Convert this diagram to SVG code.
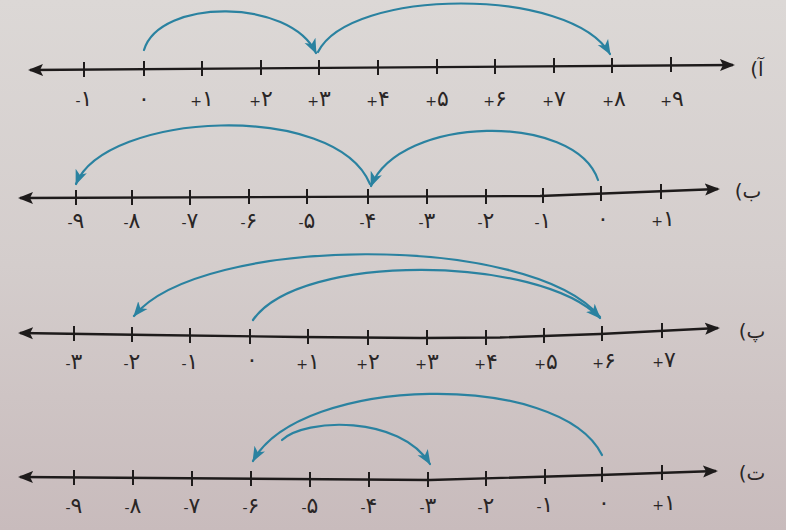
<svg xmlns="http://www.w3.org/2000/svg" width="786" height="530" viewBox="0 0 786 530">
<defs>
<linearGradient id="bg" x1="0" y1="0" x2="0" y2="1">
<stop offset="0" stop-color="#dcd8d6"/>
<stop offset="0.5" stop-color="#d4cdcc"/>
<stop offset="1" stop-color="#c8bbbc"/>
</linearGradient>
<marker id="lineEnd" markerUnits="userSpaceOnUse" markerWidth="16" markerHeight="14" viewBox="0 0 16 14" refX="13" refY="7" orient="auto-start-reverse">
<path d="M0,1 L15,7 L0,13 L3,7 Z" fill="#1e1b1b"/>
</marker>
<marker id="jump" markerUnits="userSpaceOnUse" markerWidth="16" markerHeight="14" viewBox="0 0 16 14" refX="14" refY="7" orient="auto">
<path d="M0,1 L15,7 L0,13 L4,7 Z" fill="#2a82a0"/>
</marker>
</defs>
<style>
.axis{fill:none;stroke:#1e1b1b;stroke-width:2.4;stroke-linejoin:round;marker-start:url(#lineEnd);marker-end:url(#lineEnd)}
.tick{stroke:#1e1b1b;stroke-width:2}
.num{font-family:"DejaVu Sans","Noto Sans",sans-serif;font-size:22px;fill:#2a2626;text-anchor:middle}
.s{font-size:14px}
.lbl{font-family:"DejaVu Sans","Noto Sans",sans-serif;font-size:20px;fill:#2a2626;text-anchor:middle;direction:ltr;unicode-bidi:bidi-override}
.arc{fill:none;stroke:#2a82a0;stroke-width:2.2;stroke-linecap:round}
.arr{marker-end:url(#jump)}
</style>
<rect width="786" height="530" fill="url(#bg)"/>

<g id="line-a">
<polyline class="axis" points="30,70 733,65"/>
<path class="tick" d="M84,62v15M144,61v15M202,61v15M261,60v15M319,60v15M378,60v15M437,59v15M495,59v15M554,58v15M612,58v15M671,57v15"/>
<g class="num">
<text x="84" y="106"><tspan class="s">-</tspan>۱</text><text x="144" y="106">۰</text><text x="202" y="106"><tspan class="s">+</tspan>۱</text><text x="261" y="106"><tspan class="s">+</tspan>۲</text><text x="319" y="106"><tspan class="s">+</tspan>۳</text><text x="378" y="106"><tspan class="s">+</tspan>۴</text><text x="437" y="106"><tspan class="s">+</tspan>۵</text><text x="495" y="106"><tspan class="s">+</tspan>۶</text><text x="554" y="106"><tspan class="s">+</tspan>۷</text><text x="614" y="106"><tspan class="s">+</tspan>۸</text><text x="672" y="106"><tspan class="s">+</tspan>۹</text>
</g>
<text class="lbl" x="757" y="76" direction="ltr" unicode-bidi="bidi-override">(آ</text>
</g>

<g id="line-b">
<polyline class="axis" points="20,198 540,196 718,189"/>
<path class="tick" d="M76,190v15M132,190v15M190,190v15M249,189v15M307,189v15M368,189v15M427,189v15M486,189v15M543,188v15M601,186v15M661,184v15"/>
<g class="num">
<text x="76" y="228"><tspan class="s">-</tspan>۹</text><text x="132" y="228"><tspan class="s">-</tspan>۸</text><text x="190" y="228"><tspan class="s">-</tspan>۷</text><text x="249" y="228"><tspan class="s">-</tspan>۶</text><text x="307" y="228"><tspan class="s">-</tspan>۵</text><text x="368" y="228"><tspan class="s">-</tspan>۴</text><text x="427" y="228"><tspan class="s">-</tspan>۳</text><text x="486" y="228"><tspan class="s">-</tspan>۲</text><text x="543" y="228"><tspan class="s">-</tspan>۱</text><text x="603" y="226">۰</text><text x="663" y="226"><tspan class="s">+</tspan>۱</text>
</g>
<text class="lbl" x="748" y="198" direction="ltr" unicode-bidi="bidi-override">(ب</text>
</g>

<g id="line-c">
<polyline class="axis" points="20,333 150,335 300,337 420,338 500,337.5 600,334 718,328"/>
<path class="tick" d="M74,326v15M132,327v15M190,328v15M250,329v15M308,329v15M368,330v15M427,330v15M486,330v15M544,328v15M602,326v15M662,323v15"/>
<g class="num">
<text x="74" y="369"><tspan class="s">-</tspan>۳</text><text x="132" y="369"><tspan class="s">-</tspan>۲</text><text x="190" y="369"><tspan class="s">-</tspan>۱</text><text x="252" y="367">۰</text><text x="308" y="369"><tspan class="s">+</tspan>۱</text><text x="368" y="369"><tspan class="s">+</tspan>۲</text><text x="427" y="369"><tspan class="s">+</tspan>۳</text><text x="486" y="369"><tspan class="s">+</tspan>۴</text><text x="546" y="369"><tspan class="s">+</tspan>۵</text><text x="604" y="368"><tspan class="s">+</tspan>۶</text><text x="664" y="367"><tspan class="s">+</tspan>۷</text>
</g>
<text class="lbl" x="752" y="338" direction="ltr" unicode-bidi="bidi-override">(پ</text>
</g>

<g id="line-d">
<polyline class="axis" points="20,477 430,480 600,475 716,471"/>
<path class="tick" d="M74,470v15M133,470v15M192,471v15M251,471v15M310,472v15M369,472v15M428,472v15M486,471v15M545,469v15M602,467v15M662,465v15"/>
<g class="num">
<text x="74" y="513"><tspan class="s">-</tspan>۹</text><text x="133" y="513"><tspan class="s">-</tspan>۸</text><text x="192" y="513"><tspan class="s">-</tspan>۷</text><text x="251" y="513"><tspan class="s">-</tspan>۶</text><text x="310" y="513"><tspan class="s">-</tspan>۵</text><text x="369" y="513"><tspan class="s">-</tspan>۴</text><text x="428" y="513"><tspan class="s">-</tspan>۳</text><text x="486" y="513"><tspan class="s">-</tspan>۲</text><text x="545" y="512"><tspan class="s">-</tspan>۱</text><text x="604" y="510">۰</text><text x="664" y="510"><tspan class="s">+</tspan>۱</text>
</g>
<text class="lbl" x="752" y="480" direction="ltr" unicode-bidi="bidi-override">(ت</text>
</g>

<g id="connectors">
<path class="arc arr" d="M144,50 C160,-2 290,-2 316,53"/>
<path class="arc arr" d="M318,52 C350,-12 570,-14 610,54"/>
<path class="arc arr" d="M598,180 C575,112 400,115 371,186"/>
<path class="arc arr" d="M370,184 C335,100 105,112 76,184"/>
<path class="arc arr" d="M253,320 C300,252 540,255 600,318"/>
<path class="arc arr" d="M600,317 C530,232 200,235 134,316"/>
<path class="arc arr" d="M602,455 C560,370 300,375 253,461"/>
<path class="arc arr" d="M282,440 C305,418 400,415 430,464"/>
</g>
</svg>
